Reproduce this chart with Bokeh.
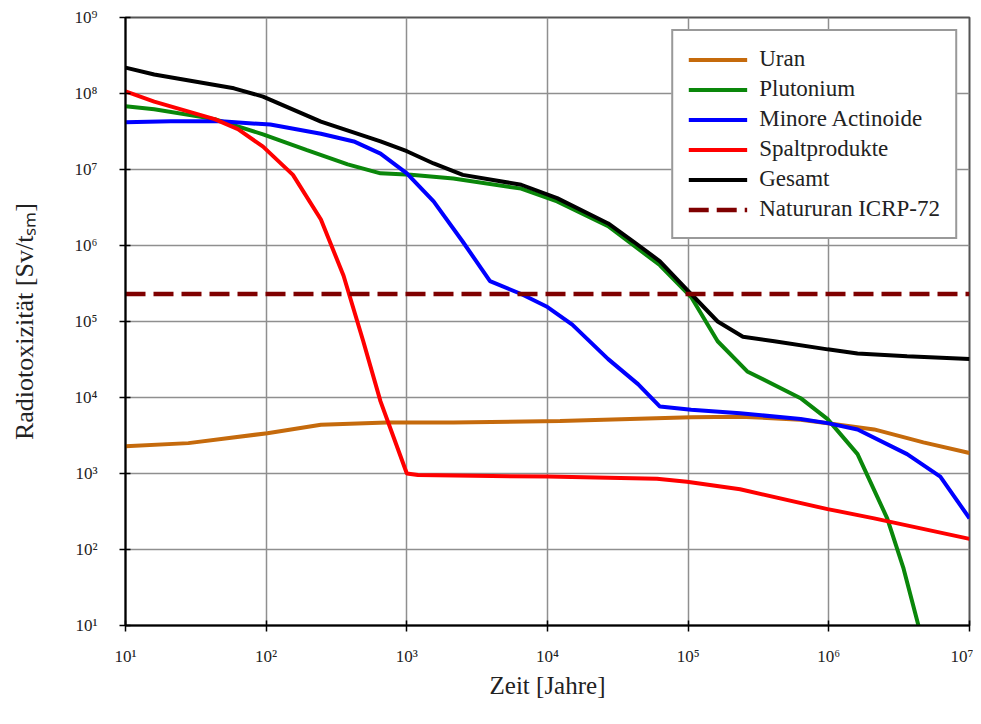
from bokeh.plotting import figure
from bokeh.models import FixedTicker, CustomJSTickFormatter, Legend, LegendItem
from bokeh.embed import file_html
from bokeh.resources import INLINE

# ---- data ----
x_ticks = [10, 100, 1000, 10000, 100000, 1000000, 10000000]
y_ticks = [10, 100, 1000, 10000, 100000, 1000000, 10000000, 100000000, 1000000000]

uran_t = [10, 28, 102, 245, 720, 2140, 12300, 105000, 234000, 630000, 980000, 2100000, 4700000, 10000000]
uran_v = [2290, 2510, 3390, 4370, 4680, 4680, 4900, 5500, 5600, 5100, 4570, 3800, 2570, 1860]

plut_t = [10, 16, 43, 95, 195, 380, 650, 1070, 2140, 6500, 11700, 27000, 41000, 63000, 105000,
          162000, 263000, 630000, 980000, 1600000, 2600000, 3400000, 4400000]
plut_v = [6.8e7, 6.2e7, 4.6e7, 2.9e7, 1.8e7, 1.17e7, 8.9e6, 8.5e6, 7.6e6, 5.6e6, 3.8e6, 1.8e6,
          1.0e6, 5.5e5, 2.1e5, 5.5e4, 2.2e4, 9.8e3, 5.2e3, 1.8e3, 257, 56, 9]

ma_t = [10, 21, 48, 107, 245, 420, 650, 1000, 1550, 2500, 3900, 6500, 10000, 15000, 27000,
        44000, 63000, 105000, 234000, 630000, 980000, 1600000, 3600000, 6200000, 10000000]
ma_v = [4.2e7, 4.3e7, 4.3e7, 3.9e7, 2.95e7, 2.34e7, 1.62e7, 8.9e6, 3.8e6, 1.12e6, 3.4e5, 2.3e5,
        1.55e5, 9.1e4, 3.2e4, 1.5e4, 7.6e3, 6.9e3, 6.2e3, 5.2e3, 4.6e3, 3.8e3, 1.8e3, 910, 257]

sp_t = [10, 16, 43, 63, 95, 155, 245, 355, 490, 650, 1000, 1200, 10000, 60000, 98000, 234000,
        980000, 2100000, 10000000]
sp_v = [1.07e8, 7.8e7, 4.6e7, 3.4e7, 2.0e7, 8.5e6, 2.2e6, 4.0e5, 5.5e4, 8.9e3, 1000, 955, 910,
        850, 780, 620, 340, 257, 138]

ges_t = [10, 16, 59, 95, 245, 650, 1000, 1550, 2500, 6500, 11700, 27000, 41000, 63000, 105000,
         162000, 245000, 410000, 980000, 1600000, 3600000, 10000000]
ges_v = [2.19e8, 1.78e8, 1.17e8, 9.1e7, 4.27e7, 2.34e7, 1.74e7, 1.2e7, 8.5e6, 6.3e6, 4.2e6, 1.95e6,
         1.12e6, 6.2e5, 2.3e5, 1.0e5, 6.3e4, 5.5e4, 4.3e4, 3.8e4, 3.5e4, 3.2e4]

nat_t = [10, 10000000]
nat_v = [2.3e5, 2.3e5]

names = ["Uran", "Plutonium", "Minore Actinoide", "Spaltprodukte", "Gesamt", "Natururan ICRP-72"]
colors = ["#C56A0C", "#0A870A", "#0000FF", "#FF0000", "#000000", "#7F0000"]

FONT = "Liberation Serif"

p = figure(x_axis_type="log", y_axis_type="log",
           x_range=(10, 1e7), y_range=(10, 1e9),
           frame_width=844, frame_height=608,
           min_border_left=125, min_border_right=4, min_border_top=17, min_border_bottom=91,
           output_backend="svg", toolbar_location=None,
           background_fill_color="white", border_fill_color="white")

p.outline_line_color = "#555555"
p.outline_line_width = 2

sup_js = """
const sup = {"0":"\u2070","1":"\u00b9","2":"\u00b2","3":"\u00b3","4":"\u2074","5":"\u2075","6":"\u2076","7":"\u2077","8":"\u2078","9":"\u2079","-":"\u207b"};
const e = Math.round(Math.log10(tick));
return "10" + String(e).split("").map(c => sup[c]).join("");
"""

for ax, ticks in ((p.xaxis[0], x_ticks), (p.yaxis[0], y_ticks)):
    ax.ticker = FixedTicker(ticks=ticks)
    ax.formatter = CustomJSTickFormatter(code=sup_js)
    ax.major_label_text_font = FONT
    ax.major_label_text_font_size = "17px"
    ax.major_label_text_color = "#222222"
    ax.axis_line_color = "#000000"
    ax.axis_line_width = 2
    ax.major_tick_line_color = "#000000"
    ax.major_tick_line_width = 1.5
    ax.major_tick_in = 5
    ax.major_tick_out = 6
    ax.minor_tick_line_color = None
    ax.axis_label_text_font = FONT
    ax.axis_label_text_font_size = "25px"
    ax.axis_label_text_font_style = "normal"
    ax.axis_label_text_color = "#222222"

p.xaxis.major_label_standoff = 15
p.yaxis.major_label_standoff = 22
p.xaxis.axis_label = "Zeit [Jahre]"
p.xaxis.axis_label_standoff = 3
p.yaxis.axis_label = "Radiotoxizität [Sv/t\u209b\u2098]"
p.yaxis.axis_label_text_font_size = "26px"
p.yaxis.axis_label_standoff = 33

for g in (p.xgrid[0], p.ygrid[0]):
    g.grid_line_color = "#8f8f8f"
    g.grid_line_width = 1.5
p.xgrid.ticker = FixedTicker(ticks=x_ticks)
p.ygrid.ticker = FixedTicker(ticks=y_ticks)

series = [(uran_t, uran_v), (plut_t, plut_v), (ma_t, ma_v), (sp_t, sp_v), (ges_t, ges_v), (nat_t, nat_v)]
items = []
for (t, v), name, col in zip(series, names, colors):
    if name.startswith("Natur"):
        r = p.line(t, v, line_color=col, line_width=4.5, line_dash="20 8")
    else:
        r = p.line(t, v, line_color=col, line_width=4)
    items.append(LegendItem(label=name, renderers=[r]))

legend = Legend(items=items, location="top_right")
legend.margin = 12
legend.padding = 15
legend.spacing = 4
legend.glyph_width = 59
legend.glyph_height = 23
legend.label_height = 23
legend.label_standoff = 12
legend.label_text_font = FONT
legend.label_text_font_size = "23px"
legend.label_text_color = "#222222"
legend.border_line_color = "#333333"
legend.border_line_width = 2
legend.background_fill_color = "white"
legend.background_fill_alpha = 1
p.add_layout(legend)

open("out.html", "w").write(file_html(p, INLINE))
